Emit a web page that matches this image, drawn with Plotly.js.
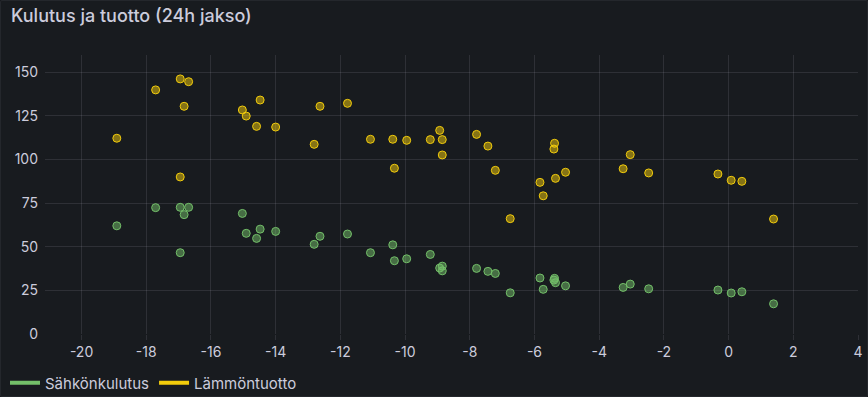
<!DOCTYPE html>
<html>
<head>
<meta charset="utf-8">
<script src="https://cdn.plot.ly/plotly-3.0.1.min.js"></script>
<style>
  html, body { margin: 0; padding: 0; background: #181b1f; }
  #wrap { position: relative; width: 868px; height: 397px; }
  #chart { width: 868px; height: 397px; }
  #border { position: absolute; left: 0; top: 0; width: 866px; height: 395px; border: 1px solid #24272c; border-radius: 2px; pointer-events: none; }
</style>
</head>
<body>
<div id="wrap"><div id="chart"></div><div id="border"></div></div>
<script>
// Outdoor temperature (°C), 24h periods
const temperature = [-18.91, -17.71, -16.95, -16.95, -16.83, -16.69, -15.03, -14.91, -14.59, -14.48, -14.00, -12.81, -12.63, -11.78, -11.07, -10.38, -10.33, -9.95, -9.22, -8.93, -8.85, -8.85, -7.79, -7.44, -7.21, -6.75, -5.83, -5.73, -5.40, -5.38, -5.35, -5.04, -3.26, -3.04, -2.47, -0.33, 0.08, 0.41, 1.39];
// Sähkönkulutus (electricity consumption)
const electricity = [62.0, 72.4, 72.6, 46.6, 68.4, 72.6, 69.1, 57.7, 54.8, 60.1, 58.8, 51.4, 56.0, 57.3, 46.6, 51.1, 42.0, 43.1, 45.6, 37.8, 38.9, 36.2, 37.6, 35.9, 34.7, 23.6, 32.1, 25.6, 30.9, 31.9, 29.4, 27.6, 26.7, 28.6, 25.9, 25.2, 23.5, 24.2, 17.3];
// Lämmöntuotto (heat production)
const heat = [112.2, 139.9, 146.2, 90.0, 130.5, 144.6, 128.4, 124.9, 119.0, 134.1, 118.6, 108.7, 130.5, 132.2, 111.6, 111.6, 95.0, 111.0, 111.4, 116.7, 111.4, 102.6, 114.4, 107.7, 93.8, 66.1, 86.9, 79.2, 106.0, 109.3, 89.2, 92.7, 94.7, 102.8, 92.3, 91.7, 88.1, 87.5, 65.9];
const seriesNames = ['Sähkönkulutus', 'Lämmöntuotto'];
const xTicks = [-20, -18, -16, -14, -12, -10, -8, -6, -4, -2, 0, 2, 4];
const xTickLabels = ['-20', '-18', '-16', '-14', '-12', '-10', '-8', '-6', '-4', '-2', '0', '2', '4'];
const yTicks = [0, 25, 50, 75, 100, 125, 150];

const green = '#73bf69';
const yellow = '#f2cc0c';
const grid = 'rgba(204,204,220,0.12)';
const txt = '#ccccdc';
const font = 'Inter, "Noto Sans", sans-serif';

const traces = [
  { x: temperature, y: electricity, type: 'scatter', mode: 'markers', name: seriesNames[0], showlegend: false,
    marker: { size: 8, color: 'rgba(115,191,105,0.5)', line: { color: green, width: 1 } } },
  { x: temperature, y: heat, type: 'scatter', mode: 'markers', name: seriesNames[1], showlegend: false,
    marker: { size: 8, color: 'rgba(242,204,12,0.5)', line: { color: yellow, width: 1 } } },
  { x: [null], y: [null], type: 'scatter', mode: 'lines', name: seriesNames[0], line: { color: green, width: 4 } },
  { x: [null], y: [null], type: 'scatter', mode: 'lines', name: seriesNames[1], line: { color: yellow, width: 4 } }
];

const layout = {
  width: 868, height: 397,
  paper_bgcolor: '#181b1f', plot_bgcolor: '#181b1f',
  margin: { l: 45, r: 10, t: 55, b: 63, autoexpand: false },
  font: { family: font, color: txt, size: 14 },
  title: { text: 'Kulutus ja tuotto (24h jakso)', xref: 'container', yref: 'container', x: 11/868, xanchor: 'left', y: 1 - 16/397, yanchor: 'middle',
           font: { family: font, size: 18, weight: 500, color: txt } },
  xaxis: { range: [-21.13, 4], tickvals: xTicks, ticktext: xTickLabels,
           showgrid: true, gridcolor: grid, gridwidth: 1, zeroline: false, showline: false,
           ticks: 'outside', ticklen: 5, tickcolor: grid, tickwidth: 1, tickfont: { size: 14, color: txt } },
  yaxis: { range: [0, 159.9], tickvals: yTicks, showgrid: true, gridcolor: grid, gridwidth: 1, zeroline: false, showline: false,
           ticks: '', ticklabelstandoff: 6, tickfont: { size: 14, color: txt } },
  showlegend: true,
  legend: { orientation: 'h', x: -40/813, xanchor: 'left', y: -49/279, yanchor: 'middle', font: { size: 15, color: txt }, bgcolor: 'rgba(0,0,0,0)', itemwidth: 30, tracegroupgap: 0 }
};

Plotly.newPlot('chart', traces, layout, { displayModeBar: false, staticPlot: true });
</script>
</body>
</html>
